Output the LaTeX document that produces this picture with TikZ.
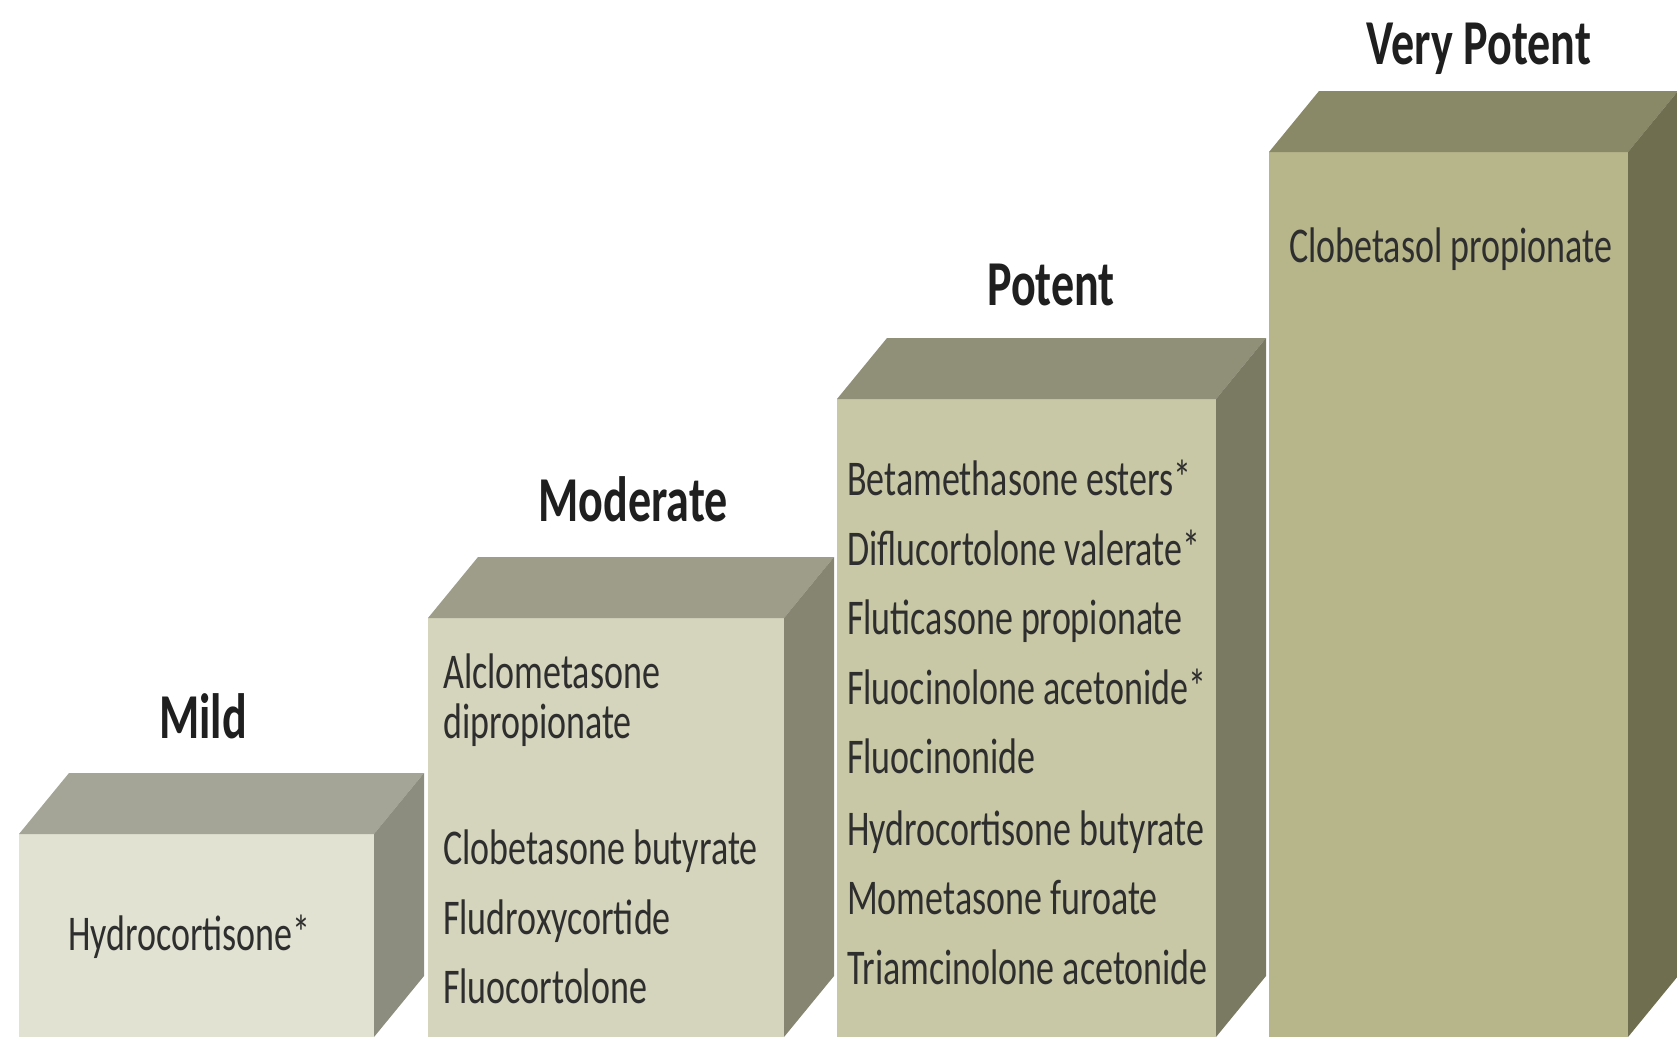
\documentclass[tikz,border=0pt]{standalone}
\usepackage{fontspec}
\setmainfont{Carlito}[FakeStretch=0.72]
\usepackage{tikz}
\usetikzlibrary{positioning}

% face colours of the four potency blocks
\definecolor{mildfront}{HTML}{E2E2D3}
\definecolor{mildtop}{HTML}{A4A596}
\definecolor{mildside}{HTML}{8C8D7E}
\definecolor{modfront}{HTML}{D5D5BD}
\definecolor{modtop}{HTML}{9D9D89}
\definecolor{modside}{HTML}{858572}
\definecolor{potfront}{HTML}{C9C8A6}
\definecolor{pottop}{HTML}{908F77}
\definecolor{potside}{HTML}{7A7A63}
\definecolor{vpotfront}{HTML}{B7B58A}
\definecolor{vpottop}{HTML}{898867}
\definecolor{vpotside}{HTML}{6F6F50}

\begin{document}
\begin{tikzpicture}[
  x=1pt, y=-1pt,
  level/.style={font=\fontsize{64}{64}\selectfont\bfseries, text=black!88, anchor=base, inner sep=0pt},
  drug/.style={font=\fontsize{50}{50}\selectfont, text=black!82, anchor=base west, inner sep=0pt}
]
\useasboundingbox (0,0) rectangle (1677,1037);

% Mild block
\fill[mildfront] (19,834) rectangle (374,1037);
\fill[mildtop] (19,834) -- (69,773) -- (424,773) -- (374,834) -- cycle;
\fill[mildside] (374,834) -- (424,773) -- (424,976) -- (374,1037) -- cycle;

% Moderate block
\fill[modfront] (428,618) rectangle (784,1037);
\fill[modtop] (428,618) -- (478,557) -- (834,557) -- (784,618) -- cycle;
\fill[modside] (784,618) -- (834,557) -- (834,976) -- (784,1037) -- cycle;

% Potent block
\fill[potfront] (837,399) rectangle (1216,1037);
\fill[pottop] (837,399) -- (887,338) -- (1266,338) -- (1216,399) -- cycle;
\fill[potside] (1216,399) -- (1266,338) -- (1266,976) -- (1216,1037) -- cycle;

% Very potent block
\fill[vpotfront] (1269,152) rectangle (1628,1037);
\fill[vpottop] (1269,152) -- (1319,91) -- (1678,91) -- (1628,152) -- cycle;
\fill[vpotside] (1628,152) -- (1678,91) -- (1678,976) -- (1628,1037) -- cycle;

% Level titles above the blocks
\node[level] (t-mild) at (203,738) {Mild};
\node[level] (t-mod)  at (633,521) {Moderate};
\node[level] (t-pot)  at (1051,305) {Potent};
\node[level] (t-vpot) at (1479,64) {Very Potent};

% Drugs of each level
\node[drug] (mild-1) at (68,950) {Hydrocortisone*};

\node[drug] (mod-1) at (443,688) {Alclometasone};
\node[drug] (mod-2) at (443,738) {dipropionate};
\node[drug] (mod-3) at (443,864) {Clobetasone butyrate};
\node[drug] (mod-4) at (443,934) {Fludroxycortide};
\node[drug] (mod-5) at (443,1003) {Fluocortolone};

\node[drug] (pot-1) at (847,495) {Betamethasone esters*};
\node[drug] (pot-2) at (847,565) {Diflucortolone valerate*};
\node[drug] (pot-3) at (847,634) {Fluticasone propionate};
\node[drug] (pot-4) at (847,704) {Fluocinolone acetonide*};
\node[drug] (pot-5) at (847,773) {Fluocinonide};
\node[drug] (pot-6) at (847,845) {Hydrocortisone butyrate};
\node[drug] (pot-7) at (847,914) {Mometasone furoate};
\node[drug] (pot-8) at (847,984) {Triamcinolone acetonide};

\node[drug] (vpot-1) at (1289,262) {Clobetasol propionate};
\end{tikzpicture}
\end{document}
